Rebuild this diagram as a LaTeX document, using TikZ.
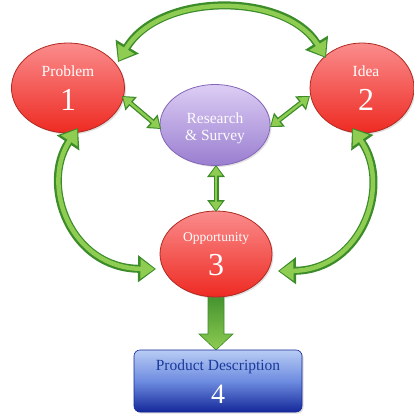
\documentclass[tikz,border=0pt]{standalone}
\usepackage{fontspec}
\setmainfont{Liberation Serif}
\usetikzlibrary{shapes.geometric,arrows.meta,shadows}
\definecolor{gdark}{HTML}{3C8C2A}
\definecolor{glight}{HTML}{8ECC52}
\definecolor{rtop}{HTML}{FA8C8C}
\definecolor{rbot}{HTML}{EE2A22}
\definecolor{rline}{HTML}{B02A22}
\definecolor{ptop}{HTML}{DCCDF4}
\definecolor{pbot}{HTML}{9A7ED0}
\definecolor{pline}{HTML}{8466B8}
\definecolor{btop}{HTML}{B8CCF4}
\definecolor{bmid}{HTML}{6E8CE0}
\definecolor{bbot}{HTML}{14289A}
\definecolor{btext}{HTML}{1A3A9A}
\tikzset{
  redell/.style={ellipse, draw=rline, line width=0.8pt, top color=rtop, bottom color=rbot,
    inner sep=0pt, drop shadow={opacity=0.25, shadow xshift=1.5pt, shadow yshift=-1.5pt}},
  purpell/.style={ellipse, draw=pline, line width=0.8pt, top color=ptop, bottom color=pbot,
    inner sep=0pt, drop shadow={opacity=0.25, shadow xshift=1.5pt, shadow yshift=-1.5pt}},
  lbl/.style={text=white, inner sep=0pt, font=\fontsize{15.5}{17}\selectfont},
  num/.style={text=white, inner sep=0pt, font=\fontsize{32}{34}\selectfont},
  bigout/.style={line width=8pt, draw=gdark, {Triangle[length=18pt,width=26pt]}-{Triangle[length=18pt,width=26pt]}},
  bigin/.style={line width=4.5pt, draw=glight, {Triangle[length=14pt,width=19pt]}-{Triangle[length=14pt,width=19pt]}, shorten <=1.5pt, shorten >=1.5pt},
  smallout/.style={line width=5pt, draw=gdark, {Triangle[length=12pt,width=17pt]}-{Triangle[length=12pt,width=17pt]}},
  smallin/.style={line width=2.5pt, draw=glight, {Triangle[length=9pt,width=12pt]}-{Triangle[length=9pt,width=12pt]}, shorten <=1.5pt, shorten >=1.5pt},
}
\begin{document}
\begin{tikzpicture}[x=1pt,y=-1pt]
\useasboundingbox (0,0) rectangle (414,414);
% block arrow to product
\path[top color=gdark, bottom color=glight, draw=gdark, line width=0.6pt]
  (208,290) -- (224,290) -- (224,334) -- (233,334) -- (216,350) -- (199,334) -- (208,334) -- cycle;
% nodes
\node[redell, minimum width=113pt, minimum height=90pt] (p1) at (68,88) {};
\node[redell, minimum width=104pt, minimum height=90pt] (p2) at (362,88) {};
\node[purpell, minimum width=110pt, minimum height=81pt] (rs) at (215,125) {};
\node[redell, minimum width=112pt, minimum height=86pt] (p3) at (216,254) {};
\node[rounded corners=6pt, draw=bbot, line width=0.6pt, top color=btop, bottom color=bbot, middle color=bmid,
  minimum width=168pt, minimum height=62pt, inner sep=0pt,
  drop shadow={opacity=0.25, shadow xshift=1.5pt, shadow yshift=-1.5pt}] (p4) at (218,381) {};
% texts
\node[lbl] (t1) at (68,71) {Problem};
\node[num] (n1) at (68,100) {1};
\node[lbl] (t2) at (366,71) {Idea};
\node[num] (n2) at (366,100) {2};
\node[lbl, text=white!92!ptop] (tr) at (215,118) {Research};
\node[lbl, text=white!92!ptop] (ts) at (215,137) {\& Survey};
\node[lbl, font=\fontsize{13.5}{15}\selectfont] (t3) at (216,238) {Opportunity};
\node[num] (n3) at (216,265) {3};
\node[lbl, text=btext] (t4) at (218,367) {Product Description};
\node[num, font=\fontsize{28}{30}\selectfont] (n4) at (218,394) {4};
% coordinates for arrow ends
\coordinate (a1) at (118,62);
\coordinate (a2) at (326,58);
\coordinate (b1) at (78,128);
\coordinate (b2) at (156,269);
\coordinate (c1) at (352,128);
\coordinate (c2) at (278,271);
\coordinate (d1) at (122,96);
\coordinate (d2) at (161,129);
\coordinate (e1) at (270,127);
\coordinate (e2) at (310,96);
\coordinate (f1) at (216,165);
\coordinate (f2) at (216,212);
% big curved arrows
\draw[bigout] (a1) .. controls (160,-8) and (285,-8) .. (a2);
\draw[bigin] (a1) .. controls (160,-8) and (285,-8) .. (a2);
\draw[bigout] (b1) .. controls (40,185) and (70,268) .. (b2);
\draw[bigin] (b1) .. controls (40,185) and (70,268) .. (b2);
\draw[bigout] (c1) .. controls (392,185) and (362,270) .. (c2);
\draw[bigin] (c1) .. controls (392,185) and (362,270) .. (c2);
% small straight arrows
\draw[smallout] (d1) -- (d2);
\draw[smallin] (d1) -- (d2);
\draw[smallout] (e1) -- (e2);
\draw[smallin] (e1) -- (e2);
\draw[smallout] (f1) -- (f2);
\draw[smallin] (f1) -- (f2);
\end{tikzpicture}
\end{document}
